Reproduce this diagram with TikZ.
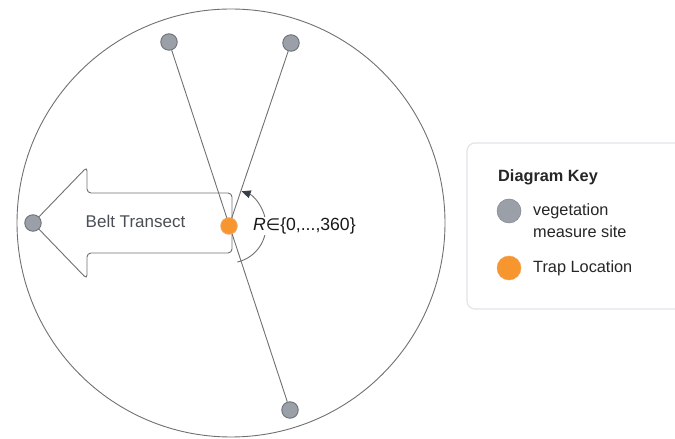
\documentclass[tikz,border=0pt]{standalone}
\usepackage{fontspec}
\setmainfont{Liberation Sans}
\newfontfamily\symfont{DejaVu Sans}
\usetikzlibrary{arrows.meta}
\definecolor{siteFill}{HTML}{9BA0A8}
\definecolor{siteDraw}{HTML}{6C717A}
\definecolor{trapFill}{HTML}{F7952F}
\definecolor{trapDraw}{HTML}{F2A65A}
\definecolor{lineGray}{HTML}{707070}
\definecolor{textGray}{HTML}{4A4F55}
\definecolor{keyBorder}{HTML}{E2E4E8}
\definecolor{arcTip}{HTML}{3A3F47}
\begin{document}
\begin{tikzpicture}[x=1pt,y=1pt,
  site/.style={circle,fill=siteFill,draw=siteDraw,line width=0.9pt,minimum size=16.5pt,inner sep=0pt},
  trap/.style={circle,fill=trapFill,draw=trapDraw,line width=0.9pt,minimum size=16.5pt,inner sep=0pt},
  keysite/.style={circle,fill=siteFill,draw=siteFill!85!black,line width=0.5pt,minimum size=24pt,inner sep=0pt},
  keytrap/.style={circle,fill=trapFill,draw=trapDraw,line width=0.5pt,minimum size=24pt,inner sep=0pt},
  conn/.style={draw=lineGray,line width=0.9pt},
  lbl/.style={font=\fontsize{17}{20}\selectfont,inner sep=0pt},
  keytxt/.style={font=\fontsize{16.3}{22}\selectfont,inner sep=0pt,anchor=west,align=left,text=black!85}
]
\useasboundingbox (0,0) rectangle (675,439);
% big circle
\draw[lineGray,line width=0.9pt] (231,216) circle[radius=214];
% belt transect arrow shape
\draw[lineGray,line width=0.9pt,rounded corners=4pt]
  (33,216) -- (87,272) -- (87,246) -- (232,246) -- (232,186) -- (87,186) -- (87,160) -- cycle;
\node[lbl,text=textGray] (belt) at (135.5,218) {Belt Transect};
% nodes
\coordinate (tc) at (229,213);
\node[site] (v1) at (169,397) {};
\node[site] (v2) at (291,396) {};
\node[site] (v3) at (33,216) {};
\node[site] (v4) at (290,29) {};
% connectors
\draw[conn] (v1) -- (v4);
\draw[conn] (v2) -- (tc);
\node[trap] (t) at (tc) {};
% angle arc
\draw[lineGray,line width=0.9pt,-{Triangle[length=9pt,width=8pt,fill=arcTip,color=arcTip]}]
  ([shift={(-77:37)}]tc) arc[start angle=-77,end angle=70,radius=37];
\node[lbl,font=\fontsize{17.6}{20}\selectfont,fill=white,anchor=west,text=black!90,inner sep=1pt] (rlab) at (252,213) {\textit{R}{\symfont\fontsize{16.5}{20}\selectfont ∈}\{0,...,360\}};
% legend
\draw[keyBorder,line width=1.2pt,rounded corners=8pt,fill=white] (467,296) rectangle (700,130);
\node[keytxt,font=\fontsize{16.3}{19}\selectfont\bfseries] (keytitle) at (498,262) {Diagram Key};
\node[keysite] (ks) at (509,228) {};
\node[keytxt,anchor=north west] (kstxt) at (533,236) {vegetation\\measure site};
\node[keytrap] (kt) at (509,171) {};
\node[keytxt] (kttxt) at (533,171) {Trap Location};
\end{tikzpicture}
\end{document}
